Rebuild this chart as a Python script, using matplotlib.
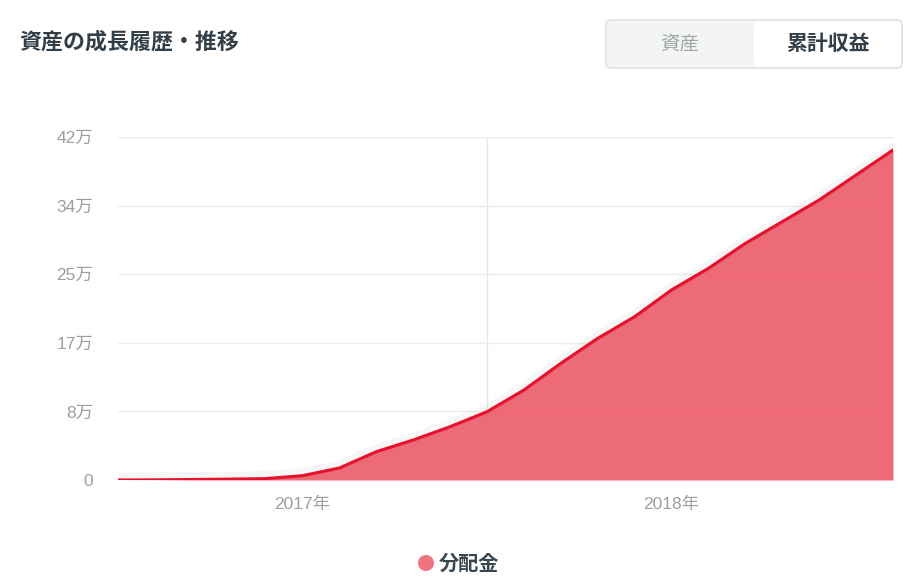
import matplotlib
matplotlib.use('Agg')
import matplotlib.pyplot as plt
import matplotlib.patheffects as pe
from matplotlib.patches import FancyBboxPatch, Circle
import numpy as np

plt.rcParams['font.family'] = ['Noto Sans CJK JP', 'DejaVu Sans']
num_font = ['Liberation Sans', 'Noto Sans CJK JP']

# 月次の累計分配金 (円)
months = np.arange(22)
dividend = [0, 200, 600, 1100, 1700, 5300, 14700, 34700, 49000, 65300,
            83600, 110200, 142900, 173500, 200000, 232800, 259200, 289800,
            316300, 342900, 373500, 404100]

y_ticks = [0, 84000, 168000, 252000, 336000, 420000]
y_labels = ['0', '8万', '17万', '25万', '34万', '42万']
year_pos = [5, 15]
year_labels = ['2017年', '2018年']
year_line = 10

title = '資産の成長履歴・推移'
tabs = ['資産', '累計収益']
legend_label = '分配金'

fig = plt.figure(figsize=(9.12, 5.88), dpi=100)

# 背景用の座標系 (ピクセル)
bg = fig.add_axes([0, 0, 1, 1])
bg.set_xlim(0, 912)
bg.set_ylim(588, 0)
bg.axis('off')

bg.text(19, 42, title, fontsize=15.8, fontweight='bold', color='#333f48',
        va='center', ha='left')

# 切替ボタン
bg.add_patch(FancyBboxPatch((606, 20), 296, 48, boxstyle='round,pad=0,rounding_size=5',
                            fc='#f3f4f4', ec='#dfe2e2', lw=1.2))
bg.add_patch(FancyBboxPatch((754, 21), 147, 46, boxstyle='round,pad=0,rounding_size=4',
                            fc='white', ec='none'))
bg.text(680, 44, tabs[0], fontsize=14, color='#a0a6aa', ha='center', va='center')
bg.text(828, 44, tabs[1], fontsize=15, fontweight='bold', color='#333f48',
        ha='center', va='center')

# 凡例
bg.add_patch(Circle((426, 563), 8, fc='#f07480', ec='none'))
bg.text(439, 563, legend_label, fontsize=14.5, fontweight='bold', color='#3a4750',
        ha='left', va='center')

ax = fig.add_axes([118 / 912, 108 / 588, 775 / 912, 343 / 588])
ax.set_xlim(0, 21)
ax.set_ylim(0, 420000)

ax.fill_between(months, dividend, 0, color='#ec5a68', alpha=0.9, lw=0, zorder=2)
ax.plot(months, dividend, color='#e8112b', lw=2.2, zorder=3,
        path_effects=[pe.SimpleLineShadow(offset=(0, 2), shadow_color='black',
                                          alpha=0.03, linewidth=7), pe.Normal()])

ax.set_yticks(y_ticks)
ax.set_yticklabels(y_labels, family=num_font)
ax.set_xticks(year_pos)
ax.set_xticklabels(year_labels, family=num_font)
ax.tick_params(length=0, labelsize=12.5, colors='#9a9fa3')
ax.tick_params(axis='y', pad=18)
ax.tick_params(axis='x', pad=12)
for lbl in ax.get_yticklabels():
    lbl.set_horizontalalignment('right')

ax.grid(axis='y', color='#ededed', lw=1, zorder=1)
ax.axvline(year_line, color='#e6e6e6', lw=1, zorder=1)
for s in ax.spines.values():
    s.set_visible(False)

fig.savefig('out.png', dpi=100)
